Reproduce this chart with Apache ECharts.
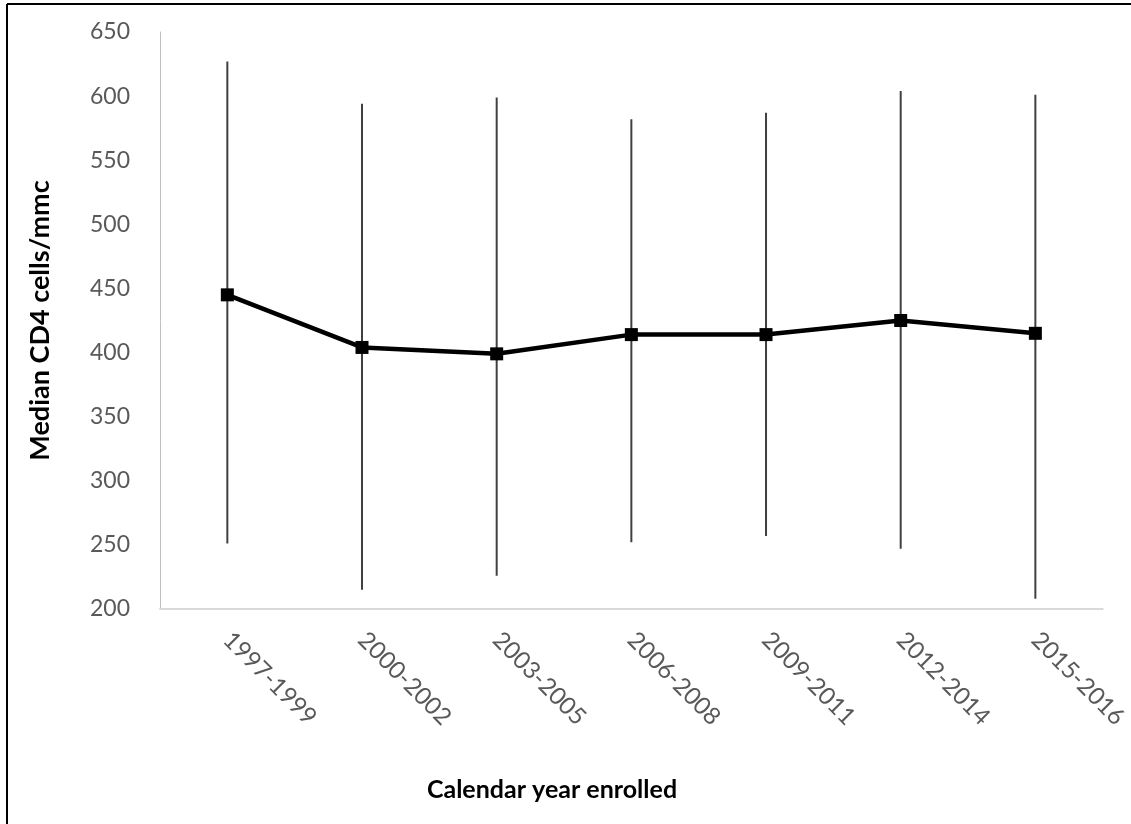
<!DOCTYPE html>
<html>
<head>
<meta charset="utf-8">
<script src="https://cdn.jsdelivr.net/npm/echarts@6/dist/echarts.min.js"></script>
<style>
html, body { margin: 0; padding: 0; background: #fff; }
#chart { width: 1131px; height: 824px; }
</style>
</head>
<body>
<div id="chart"></div>
<script>
const categories = ['1997-1999', '2000-2002', '2003-2005', '2006-2008', '2009-2011', '2012-2014', '2015-2016']
const medianCd4 = [445, 404, 399, 414, 414, 425, 415]
const lowerCd4 = [251, 215, 226, 252, 257, 247, 208]
const upperCd4 = [627, 594, 599, 582, 587, 604, 601]

const chart = echarts.init(document.getElementById('chart'))

const errorData = categories.map((c, i) => [i, lowerCd4[i], upperCd4[i]])

const option = {
    animation: false,
    backgroundColor: '#fff',
    grid: { left: 160, right: 28, top: 32, bottom: 215 },
    xAxis: {
        type: 'category',
        data: categories,
        boundaryGap: true,
        axisLine: { lineStyle: { color: '#d9d9d9', width: 2 } },
        axisTick: { show: false },
        axisLabel: {
            rotate: -45,
            margin: 27,
            color: '#595959',
            fontSize: 24,
            fontFamily: 'Lato'
        },
        splitLine: { show: false }
    },
    yAxis: {
        type: 'value',
        min: 200,
        max: 650,
        interval: 50,
        name: 'Median CD4 cells/mmc',
        nameLocation: 'middle',
        nameGap: 106,
        nameTextStyle: { color: '#000', fontSize: 27, fontWeight: 'bold', fontFamily: 'Lato' },
        axisLine: { show: true, lineStyle: { color: '#bfbfbf', width: 1 } },
        axisTick: { show: false },
        axisLabel: { margin: 30, color: '#595959', fontSize: 23, fontFamily: 'Lato' },
        splitLine: { show: false }
    },
    graphic: [
        { type: 'line', shape: { x1: 7, y1: 4, x2: 7, y2: 824 }, style: { stroke: '#000', lineWidth: 2 } },
        { type: 'line', shape: { x1: 7, y1: 4, x2: 1131, y2: 4 }, style: { stroke: '#000', lineWidth: 2 } },
        {
            type: 'text',
            x: 552,
            y: 790,
            style: {
                text: 'Calendar year enrolled',
                fill: '#000',
                font: 'bold 25px Lato',
                textAlign: 'center',
                textVerticalAlign: 'middle'
            }
        }
    ],
    series: [
        {
            type: 'custom',
            data: errorData,
            z: 1,
            renderItem: (params, api) => {
                const lo = api.coord([api.value(0), api.value(1)])
                const hi = api.coord([api.value(0), api.value(2)])
                return {
                    type: 'line',
                    shape: { x1: lo[0], y1: lo[1], x2: hi[0], y2: hi[1] },
                    style: { stroke: '#404040', lineWidth: 2 }
                }
            }
        },
        {
            type: 'line',
            data: medianCd4,
            z: 3,
            symbol: 'rect',
            symbolSize: 13,
            itemStyle: { color: '#000' },
            lineStyle: { color: '#000', width: 4.5 }
        }
    ]
}

chart.setOption(option)
</script>
</body>
</html>
